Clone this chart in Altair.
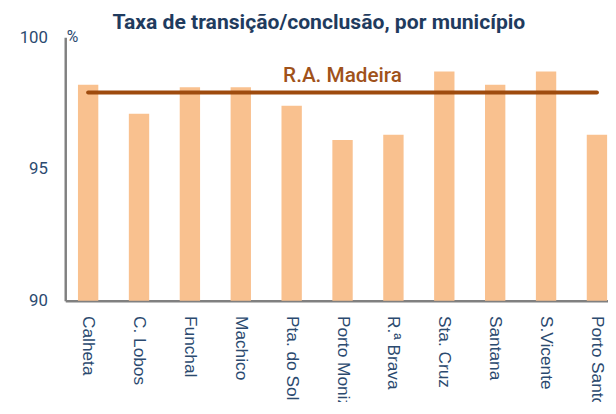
import altair as alt
import pandas as pd

municipios = ["Calheta", "C. Lobos", "Funchal", "Machico", "Pta. do Sol", "Porto Moniz",
              "R.ª Brava", "Sta. Cruz", "Santana", "S.Vicente", "Porto Santo"]
taxas = [98.2, 97.1, 98.1, 98.1, 97.4, 96.1, 96.3, 98.7, 98.2, 98.7, 96.3]
regiao_nome = "R.A. Madeira"
regiao_valor = 97.9
y_ticks = [90, 95, 100]

df = pd.DataFrame({"municipio": municipios, "taxa": taxas})
df_ra = pd.DataFrame({"municipio": municipios, "taxa": [regiao_valor] * len(municipios)})
df_lbl = pd.DataFrame({"municipio": [municipios[5]], "taxa": [regiao_valor], "txt": [regiao_nome]})

label_color = "#2B4A6F"

x_enc = alt.X("municipio:N", sort=municipios,
              scale=alt.Scale(paddingInner=0.6, paddingOuter=0.25, range=[0, 562]),
              axis=alt.Axis(title=None, labelAngle=90, labelFont="Liberation Sans",
                            labelFontSize=17.5, labelColor=label_color, labelPadding=15,
                            ticks=False, domainColor="#808080", domainWidth=2.5))
y_scale = alt.Scale(domain=[90, 100], zero=False, nice=False)

bars = alt.Chart(df).mark_bar(color="#F9C18F").encode(
    x=x_enc,
    y=alt.Y("taxa:Q", scale=y_scale,
            axis=alt.Axis(values=y_ticks, title="%", titleAngle=0, titleX=1, titleY=4,
                          titleAlign="left", titleBaseline="alphabetic",
                          titleFont="Roboto", titleFontSize=16, titleFontWeight="normal",
                          titleColor=label_color, labelFont="Roboto", labelFontSize=17,
                          labelColor=label_color, labelPadding=18, ticks=False, grid=False,
                          domainColor="#808080", domainWidth=2.5)),
    y2=alt.datum(90),
)

line = alt.Chart(df_ra).mark_line(color="#9E4B0E", strokeWidth=4, strokeCap="round").encode(
    x=alt.X("municipio:N", sort=municipios),
    y=alt.Y("taxa:Q", scale=y_scale),
)

label = alt.Chart(df_lbl).mark_text(color="#A0521A", font="Roboto", fontSize=21,
                                    fontWeight=500, dy=-17, baseline="middle").encode(
    x=alt.X("municipio:N", sort=municipios),
    y=alt.Y("taxa:Q", scale=y_scale),
    text="txt:N",
)

chart = alt.layer(bars, line, label).properties(
    width=550, height=267,
    title=alt.TitleParams("Taxa de transição/conclusão, por município", font="Roboto",
                          fontSize=21.4, fontWeight="bold", color="#1F3B5E",
                          anchor="middle", frame="group", dx=-18, offset=-5),
    autosize=alt.AutoSizeParams(type="none"),
    padding={"left": 58, "top": 27, "right": 0, "bottom": 100},
).configure_view(stroke=None)

chart.save("out.html", embed_options={"renderer": "svg", "actions": False})
